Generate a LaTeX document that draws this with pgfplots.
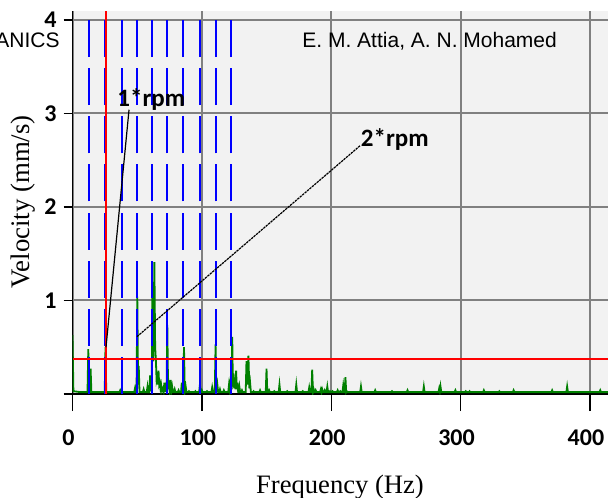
\documentclass[border=0pt]{standalone}
\usepackage{fontspec}
\setmainfont{Liberation Serif}
\newfontfamily\arialf{Liberation Sans}
\newfontfamily\calb{Carlito}
\usepackage{pgfplots}
\pgfplotsset{compat=1.18}
\definecolor{bggray}{RGB}{242,242,242}
\definecolor{gridgray}{RGB}{128,128,128}
\definecolor{specgreen}{RGB}{0,128,0}
\definecolor{hblue}{RGB}{0,0,255}
\begin{document}
\begin{tikzpicture}
\useasboundingbox (0,0) rectangle (304pt,248.5pt);
\begin{axis}[
  at={(36.25pt,51.5pt)}, anchor=south west,
  scale only axis, width=267.75pt, height=191.5pt,
  xmin=0, xmax=414, ymin=0, ymax=4.096,
  axis x line*=bottom, axis y line*=left,
  axis line style={black, line width=0.8pt},
  axis background/.style={fill=bggray},
  grid=major,
  major grid style={gridgray, line width=1pt},
  xtick={0,100,200,300,400},
  ytick={0,1,2,3,4},
  yticklabels={,1,2,3,4},
  tick align=outside,
  major tick length=4.5pt,
  xtick style={black, line width=0.7pt, /pgfplots/major tick length=8.5pt},
  ytick style={black, line width=0.7pt},
  /pgf/number format/assume math mode=true,
  ticklabel style={font=\calb\bfseries\fontsize{12}{14}\selectfont},
  xticklabel style={yshift=-10pt, xshift=-2pt},
  clip=true,
  hdash/.style={hblue, line width=1pt, dash pattern=on 18.5pt off 5.57pt},
]
\addplot[specgreen, line width=0.9pt] coordinates {
(0,0.63) (0.7,0.03) (6,0.02) (11.6,0.02) (12.2,0.48) (12.8,0.02) (13.4,0.02) (14,0.27) (14.6,0.02)
(20,0.02) (24.9,0.02) (25.5,0.50) (26.1,0.02) (36.3,0.02) (36.9,0.04) (37.5,0.02)
(47.7,0.02) (48.3,0.06) (48.9,0.02) (49.5,0.02) (50.1,1.04) (50.7,0.10) (51.2,0.30) (51.8,0.02)
(54.4,0.02) (55,0.05) (55.6,0.02) (57.4,0.02) (58,0.08) (58.6,0.02) (59.4,0.02) (60,0.20) (60.6,0.04)
(61.2,0.04) (61.8,1.19) (62.4,0.35) (63.3,1.41) (63.9,0.50) (64.5,0.35) (65,0.15) (65.5,0.18) (66,0.10)
(66.5,0.25) (67,0.10) (67.5,0.12) (68,0.06) (68.5,0.10) (69.2,0.03) (70,0.06) (70.5,0.03) (71,0.12) (71.6,0.03)
(72.7,0.03) (73.3,0.74) (73.9,0.05) (74.5,0.10) (75.1,0.03) (75.9,0.15) (76.5,0.04) (77,0.08) (77.6,0.02)
(78.4,0.02) (79,0.05) (79.6,0.02) (81.4,0.02) (82,0.04) (82.6,0.02) (83.9,0.02) (84.5,0.12) (85.1,0.03)
(85.6,0.03) (86.2,0.50) (86.8,0.03) (87.5,0.08) (88.1,0.02) (89.4,0.02) (90,0.03) (90.6,0.02)
(94.4,0.02) (95,0.03) (95.6,0.02) (97.9,0.02) (98.5,0.10) (99.1,0.02) (99.4,0.02) (100,0.04) (100.6,0.02)
(103.4,0.02) (104,0.03) (104.6,0.02) (107.4,0.02) (108,0.07) (108.6,0.02) (110,0.02) (110.6,0.53) (111.2,0.03)
(112,0.10) (112.6,0.02) (113.4,0.02) (114,0.05) (114.6,0.02) (116.4,0.02) (117,0.04) (117.6,0.02)
(120.4,0.02) (121,0.10) (121.6,0.04) (122.5,0.20) (123,0.05) (123.5,0.61) (124,0.08) (124.5,0.22) (125,0.06)
(125.5,0.15) (126,0.05) (126.5,0.25) (127,0.05) (127.5,0.12) (128.1,0.02) (128.4,0.02) (129,0.08) (129.6,0.02)
(130.4,0.02) (131,0.04) (131.6,0.02) (133.9,0.02) (134.5,0.35) (135.2,0.10) (136,0.41) (136.7,0.06) (137.3,0.12) (137.9,0.02)
(139.4,0.02) (140,0.03) (140.6,0.02) (144.4,0.02) (145,0.04) (145.6,0.02) (149.4,0.02) (150,0.27) (150.6,0.02)
(151.4,0.02) (152,0.04) (152.6,0.02) (155.4,0.02) (156,0.03) (156.6,0.02) (159.4,0.02) (160,0.10) (160.6,0.02)
(165.4,0.02) (166,0.03) (166.6,0.02) (172.4,0.02) (173,0.10) (173.6,0.02) (177.4,0.02) (178,0.03) (178.6,0.02)
(182.4,0.02) (183,0.07) (183.6,0.02) (184.7,0.02) (185.3,0.26) (185.9,0.02) (186.5,0.05) (187.1,0.02)
(187.4,0.02) (188,0.04) (188.6,0.02) (191.4,0.02) (192,0.05) (192.5,0.02) (193,0.05) (193.6,0.02)
(194.4,0.02) (195,0.04) (195.6,0.02) (196.4,0.02) (197,0.08) (197.6,0.02) (198.4,0.02) (199,0.03) (199.6,0.02)
(200.4,0.02) (201,0.03) (201.6,0.02) (204.4,0.02) (205,0.04) (205.6,0.02) (206.4,0.02) (207,0.03) (207.6,0.02)
(208.7,0.02) (209.3,0.09) (209.9,0.02) (210.4,0.02) (211,0.18) (211.6,0.02) (212,0.03) (212.6,0.02)
(222.4,0.02) (223,0.08) (223.6,0.02) (233.4,0.02) (234,0.04) (234.6,0.02) (246.4,0.02) (247,0.03) (247.6,0.02)
(258.4,0.02) (259,0.04) (259.6,0.02) (271,0.02) (271.6,0.08) (272.2,0.02) (282.9,0.02) (283.5,0.06) (284,0.03)
(284.5,0.08) (285.1,0.02) (295.4,0.02) (296,0.04) (296.6,0.02) (303.4,0.02) (304,0.03) (304.6,0.02)
(306.4,0.02) (307,0.03) (307.6,0.02) (317.4,0.02) (318,0.04) (318.6,0.02) (329.4,0.02) (330,0.03) (330.6,0.02)
(340.4,0.02) (341,0.04) (341.6,0.02) (370.2,0.02) (370.8,0.04) (371.4,0.02) (381.8,0.02) (382.4,0.08) (383,0.02)
(407.4,0.02) (408,0.04) (408.6,0.02) (414,0.02)
};
\addplot[hdash] coordinates {(12.5,0) (12.5,4)};
\addplot[hdash] coordinates {(25.1,0) (25.1,4)};
\addplot[hdash] coordinates {(38.0,0) (38.0,4)};
\addplot[hdash] coordinates {(49.8,0) (49.8,4)};
\addplot[hdash] coordinates {(61.2,0) (61.2,4)};
\addplot[hdash] coordinates {(73.3,0) (73.3,4)};
\addplot[hdash] coordinates {(85.6,0) (85.6,4)};
\addplot[hdash] coordinates {(98.5,0) (98.5,4)};
\addplot[hdash] coordinates {(110.9,0) (110.9,4)};
\addplot[hdash] coordinates {(122.7,0) (122.7,4)};
\addplot[red, line width=0.8pt] coordinates {(0,0.375) (414,0.375)};
\addplot[red, line width=0.8pt] coordinates {(25.9,0) (25.9,4.096)};
\draw[black, line width=0.6pt] (axis cs:43.7,3.04) -- (axis cs:25.9,0.50);
\draw[black, line width=0.6pt, dash pattern=on 1.2pt off 0.4pt] (axis cs:49.8,0.613) -- (axis cs:222.7,2.66);
\node[anchor=base west, inner sep=0pt, font=\calb\bfseries\fontsize{12.5}{14}\selectfont] at (axis cs:34.4,3.07) {1*rpm};
\node[anchor=base west, inner sep=0pt, font=\calb\bfseries\fontsize{12.5}{14}\selectfont] at (axis cs:222.7,2.645) {2*rpm};
\end{axis}
\node[anchor=base east, inner sep=0pt, font=\arialf\fontsize{10.5}{12}\selectfont] at (30pt,224.5pt) {ANICS};
\node[anchor=base west, inner sep=0pt, font=\arialf\fontsize{10.5}{12}\selectfont] at (151pt,224.5pt) {E. M. Attia, A. N. Mohamed};
\node[rotate=90, inner sep=0pt, font=\fontsize{13.4}{15}\selectfont] at (11.5pt,147.5pt) {Velocity (mm/s)};
\node[anchor=base, inner sep=0pt, font=\fontsize{13.3}{15}\selectfont] at (170pt,2pt) {Frequency (Hz)};
\end{tikzpicture}
\end{document}
